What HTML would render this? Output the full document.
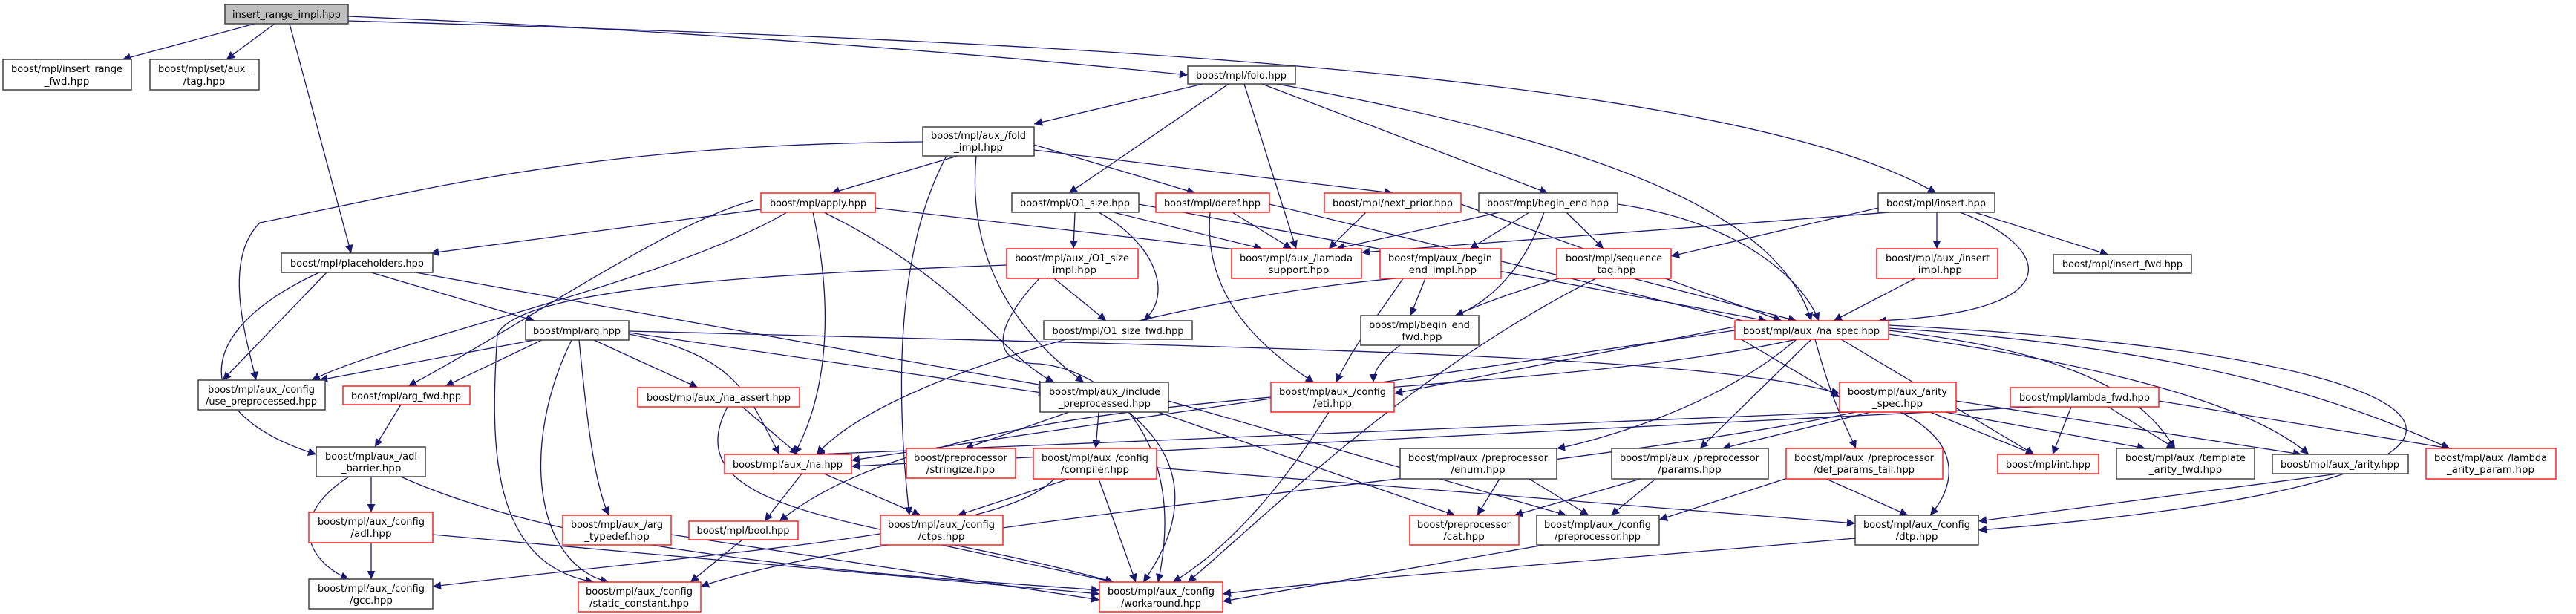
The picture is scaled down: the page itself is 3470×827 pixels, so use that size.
<!DOCTYPE html>
<html><head><meta charset="utf-8"><style>
html,body{margin:0;padding:0;background:#fff}
svg{display:block}
text{font-family:"DejaVu Sans","Liberation Sans",sans-serif;font-size:13.5px;fill:#000}
.e{fill:none;stroke:#191970;stroke-width:1.3}
.b{fill:#fff;stroke:#404040;stroke-width:1.5}
.r{fill:#fff;stroke:#ff2020;stroke-width:1.5}
</style></head><body>
<svg width="3470" height="827" viewBox="0 0 3470 827" xmlns="http://www.w3.org/2000/svg">
<defs><marker id="a" viewBox="0 0 10 10" refX="10" refY="5" markerWidth="13" markerHeight="11" markerUnits="userSpaceOnUse" orient="auto"><path d="M0,0 L10,5 L0,10 z" fill="#191970"/></marker></defs>
<g class="e" marker-end="url(#a)">
<path d="M343,32 L165,80"/><path d="M370,32 L305,80"/><path d="M390,32 L473,341"/>
<path d="M469,22 C900,40 1300,70 1600,101"/><path d="M469,28 C1200,50 2300,80 2608,260"/>
<path d="M1620,113 L1393,167"/><path d="M1655,113 L1440,260"/><path d="M1676,113 L1746,335"/><path d="M1700,113 L2085,260"/><path d="M1720,113 C2200,200 2400,300 2440,432"/>
<path d="M1290,210 L1120,260"/><path d="M1393,195 L1610,260"/><path d="M1393,202 L1876,260"/><path d="M1315,210 C1300,380 1400,470 1460,515"/><path d="M1243,191 C800,195 600,250 350,300 C300,350 330,450 345,512"/><path d="M1275,210 C1200,350 1210,560 1225,694"/>
<path d="M1025,282 L580,341"/><path d="M1179,280 L1700,340"/><path d="M1060,286 C900,380 520,460 420,512"/><path d="M1095,286 C1120,400 1120,520 1070,612"/><path d="M1110,286 C1300,380 1350,480 1420,515"/><path d="M1015,270 C900,300 700,440 550,520"/>
<path d="M440,367 L300,512"/><path d="M500,367 L720,432"/><path d="M430,367 C250,450 260,560 426,612"/><path d="M560,367 L1410,520"/>
<path d="M720,458 L430,512"/><path d="M730,458 L600,520"/><path d="M800,458 L940,522"/><path d="M847,450 C1000,480 1010,540 1050,612"/><path d="M847,448 L1410,530"/><path d="M780,458 C790,560 800,650 820,694"/><path d="M770,458 C700,600 720,760 820,784"/><path d="M847,446 C1800,470 2300,480 2478,530"/>
<path d="M1448,286 L1446,335"/><path d="M1480,286 C1560,330 1580,400 1540,432"/><path d="M1500,286 L1700,335"/><path d="M1534,275 L2380,432"/>
<path d="M1420,375 L1490,432"/><path d="M1400,375 C1330,450 1340,490 1400,490 C1500,500 1600,600 1560,784"/><path d="M1356,357 C1000,370 700,390 670,450 C660,600 660,760 800,784"/>
<path d="M1660,286 L1740,335"/><path d="M1630,286 C1620,400 1700,470 1770,515"/><path d="M1710,275 L2380,440"/>
<path d="M1840,286 L1790,335"/><path d="M1968,275 L2400,432"/>
<path d="M2020,286 L1800,335"/><path d="M2060,286 L1980,335"/><path d="M2110,286 L2160,335"/><path d="M2080,286 C2050,370 2000,410 1960,425"/><path d="M2179,275 C2350,300 2430,380 2450,432"/>
<path d="M1890,375 C1860,420 1820,470 1800,515"/><path d="M1920,375 L1900,425"/><path d="M1880,375 C1600,400 1200,500 1100,612"/><path d="M2100,375 C1950,420 1850,470 1850,515"/><path d="M2200,375 L2420,432"/><path d="M2150,375 C1900,500 1700,700 1600,784"/>
<path d="M2545,286 L1834,340"/><path d="M2530,280 L2251,345"/><path d="M2609,286 L2609,335"/><path d="M2640,286 C2760,330 2800,420 2530,432"/><path d="M2660,286 L2840,343"/>
<path d="M2580,375 L2470,432"/>
<path d="M2337,445 L1147,620"/><path d="M2337,440 L1878,530"/><path d="M2420,457 C2300,560 2120,600 2097,604"/><path d="M2440,457 L2290,604"/><path d="M2445,457 C2470,550 2490,580 2500,604"/><path d="M2480,457 L2740,612"/><path d="M2544,445 C2850,480 2900,560 2930,604"/><path d="M2544,450 C2900,500 3050,560 3110,612"/><path d="M2544,442 C3000,470 3200,560 3300,604"/><path d="M2544,438 C3400,480 3500,650 2665,714"/><path d="M2420,457 C2000,550 1300,500 1050,702"/><path d="M2337,452 L2478,535"/>
<path d="M1440,555 L1300,604"/><path d="M1480,555 L1476,604"/><path d="M1520,555 C1600,620 1600,700 1540,784"/><path d="M1574,540 L2110,694"/><path d="M1560,555 L1960,694"/>
<path d="M1440,645 L1290,694"/><path d="M1420,645 C1350,720 1000,740 583,790"/><path d="M1480,645 L1530,784"/><path d="M1558,630 L2499,705"/>
<path d="M1080,638 L1030,702"/><path d="M1110,638 L1240,694"/>
<path d="M1000,548 L1075,612"/><path d="M980,548 C900,700 1200,700 1500,784"/>
<path d="M1000,727 L930,784"/><path d="M1268,734 L1500,784"/><path d="M1790,555 C1700,700 1620,760 1580,784"/>
<path d="M500,642 L500,690"/><path d="M470,642 C380,700 420,760 470,780"/><path d="M540,642 C800,760 1300,780 1481,795"/>
<path d="M500,731 L500,780"/><path d="M583,720 L1481,800"/>
<path d="M540,545 L505,602"/><path d="M904,720 L1481,808"/>
<path d="M2490,555 L1100,612"/><path d="M2600,555 L2740,612"/><path d="M2560,555 C2650,600 2630,660 2600,694"/><path d="M2620,555 L2890,604"/><path d="M2635,540 L3100,612"/><path d="M2500,555 C2100,640 1200,700 944,790"/><path d="M2520,555 L2320,604"/>
<path d="M2790,548 L2765,612"/><path d="M2840,548 L2930,604"/><path d="M2908,540 L3300,604"/><path d="M2740,548 L1147,628"/>
<path d="M2020,645 L1990,694"/><path d="M2060,645 L2140,694"/><path d="M2230,645 L2170,694"/><path d="M2210,645 L2040,694"/>
<path d="M2460,645 L2570,694"/><path d="M2420,640 L2235,700"/>
<path d="M3150,638 L2665,702"/><path d="M2499,725 C2100,760 1800,780 1647,800"/><path d="M2080,734 L1647,810"/>
</g>
<g>
<rect x="303" y="6" width="166" height="26" fill="#bfbfbf" stroke="#404040" stroke-width="1.5"/><text x="386" y="24" text-anchor="middle" textLength="146" lengthAdjust="spacingAndGlyphs">insert_range_impl.hpp</text>
<rect class="b" x="4" y="80" width="173" height="41"/><text x="90" y="97" text-anchor="middle" textLength="150" lengthAdjust="spacingAndGlyphs">boost/mpl/insert_range</text><text x="90" y="114" text-anchor="middle">_fwd.hpp</text>
<rect class="b" x="202" y="80" width="147" height="41"/><text x="275" y="97" text-anchor="middle" textLength="124" lengthAdjust="spacingAndGlyphs">boost/mpl/set/aux_</text><text x="275" y="114" text-anchor="middle">/tag.hpp</text>
<rect class="b" x="379" y="341" width="204" height="26"/><text x="481" y="359" text-anchor="middle" textLength="180" lengthAdjust="spacingAndGlyphs">boost/mpl/placeholders.hpp</text>
<rect class="b" x="1600" y="89" width="145" height="24"/><text x="1672" y="106" text-anchor="middle" textLength="122" lengthAdjust="spacingAndGlyphs">boost/mpl/fold.hpp</text>
<rect class="b" x="1243" y="171" width="150" height="39"/><text x="1318" y="187" text-anchor="middle" textLength="128" lengthAdjust="spacingAndGlyphs">boost/mpl/aux_/fold</text><text x="1318" y="203" text-anchor="middle">_impl.hpp</text>
<rect class="r" x="1025" y="260" width="154" height="26"/><text x="1102" y="278" text-anchor="middle" textLength="130" lengthAdjust="spacingAndGlyphs">boost/mpl/apply.hpp</text>
<rect class="b" x="1363" y="260" width="171" height="26"/><text x="1448" y="278" text-anchor="middle" textLength="148" lengthAdjust="spacingAndGlyphs">boost/mpl/O1_size.hpp</text>
<rect class="r" x="1557" y="260" width="153" height="26"/><text x="1633" y="278" text-anchor="middle" textLength="130" lengthAdjust="spacingAndGlyphs">boost/mpl/deref.hpp</text>
<rect class="r" x="1784" y="260" width="184" height="26"/><text x="1876" y="278" text-anchor="middle" textLength="162" lengthAdjust="spacingAndGlyphs">boost/mpl/next_prior.hpp</text>
<rect class="b" x="1992" y="260" width="187" height="26"/><text x="2085" y="278" text-anchor="middle" textLength="164" lengthAdjust="spacingAndGlyphs">boost/mpl/begin_end.hpp</text>
<rect class="b" x="2530" y="260" width="157" height="26"/><text x="2608" y="278" text-anchor="middle" textLength="134" lengthAdjust="spacingAndGlyphs">boost/mpl/insert.hpp</text>
<rect class="r" x="1356" y="335" width="177" height="40"/><text x="1444" y="352" text-anchor="middle" textLength="154" lengthAdjust="spacingAndGlyphs">boost/mpl/aux_/O1_size</text><text x="1444" y="368" text-anchor="middle">_impl.hpp</text>
<rect class="r" x="1659" y="335" width="175" height="40"/><text x="1746" y="352" text-anchor="middle" textLength="152" lengthAdjust="spacingAndGlyphs">boost/mpl/aux_/lambda</text><text x="1746" y="368" text-anchor="middle">_support.hpp</text>
<rect class="r" x="1859" y="335" width="163" height="40"/><text x="1940" y="352" text-anchor="middle" textLength="140" lengthAdjust="spacingAndGlyphs">boost/mpl/aux_/begin</text><text x="1940" y="368" text-anchor="middle">_end_impl.hpp</text>
<rect class="r" x="2097" y="335" width="154" height="40"/><text x="2174" y="352" text-anchor="middle" textLength="130" lengthAdjust="spacingAndGlyphs">boost/mpl/sequence</text><text x="2174" y="368" text-anchor="middle">_tag.hpp</text>
<rect class="r" x="2528" y="335" width="163" height="40"/><text x="2610" y="352" text-anchor="middle" textLength="140" lengthAdjust="spacingAndGlyphs">boost/mpl/aux_/insert</text><text x="2610" y="368" text-anchor="middle">_impl.hpp</text>
<rect class="b" x="2766" y="343" width="186" height="25"/><text x="2859" y="360" text-anchor="middle" textLength="162" lengthAdjust="spacingAndGlyphs">boost/mpl/insert_fwd.hpp</text>
<rect class="b" x="708" y="432" width="139" height="26"/><text x="777" y="450" text-anchor="middle" textLength="118" lengthAdjust="spacingAndGlyphs">boost/mpl/arg.hpp</text>
<rect class="b" x="1406" y="432" width="200" height="25"/><text x="1506" y="450" text-anchor="middle" textLength="177" lengthAdjust="spacingAndGlyphs">boost/mpl/O1_size_fwd.hpp</text>
<rect class="b" x="1833" y="425" width="159" height="40"/><text x="1912" y="442" text-anchor="middle" textLength="136" lengthAdjust="spacingAndGlyphs">boost/mpl/begin_end</text><text x="1912" y="458" text-anchor="middle">_fwd.hpp</text>
<rect class="r" x="2337" y="432" width="207" height="25"/><text x="2440" y="450" text-anchor="middle" textLength="184" lengthAdjust="spacingAndGlyphs">boost/mpl/aux_/na_spec.hpp</text>
<rect class="b" x="267" y="512" width="171" height="40"/><text x="352" y="529" text-anchor="middle" textLength="144" lengthAdjust="spacingAndGlyphs">boost/mpl/aux_/config</text><text x="352" y="545" text-anchor="middle" textLength="150" lengthAdjust="spacingAndGlyphs">/use_preprocessed.hpp</text>
<rect class="r" x="462" y="520" width="171" height="25"/><text x="547" y="538" text-anchor="middle" textLength="148" lengthAdjust="spacingAndGlyphs">boost/mpl/arg_fwd.hpp</text>
<rect class="r" x="859" y="522" width="218" height="26"/><text x="968" y="540" text-anchor="middle" textLength="194" lengthAdjust="spacingAndGlyphs">boost/mpl/aux_/na_assert.hpp</text>
<rect class="b" x="1401" y="515" width="173" height="40"/><text x="1488" y="532" text-anchor="middle" textLength="150" lengthAdjust="spacingAndGlyphs">boost/mpl/aux_/include</text><text x="1488" y="548" text-anchor="middle" textLength="124" lengthAdjust="spacingAndGlyphs">_preprocessed.hpp</text>
<rect class="r" x="1712" y="515" width="166" height="40"/><text x="1795" y="532" text-anchor="middle" textLength="144" lengthAdjust="spacingAndGlyphs">boost/mpl/aux_/config</text><text x="1795" y="548" text-anchor="middle">/eti.hpp</text>
<rect class="r" x="2478" y="515" width="157" height="40"/><text x="2556" y="532" text-anchor="middle" textLength="134" lengthAdjust="spacingAndGlyphs">boost/mpl/aux_/arity</text><text x="2556" y="548" text-anchor="middle">_spec.hpp</text>
<rect class="r" x="2708" y="522" width="200" height="26"/><text x="2808" y="540" text-anchor="middle" textLength="176" lengthAdjust="spacingAndGlyphs">boost/mpl/lambda_fwd.hpp</text>
<rect class="b" x="426" y="602" width="147" height="40"/><text x="500" y="619" text-anchor="middle" textLength="124" lengthAdjust="spacingAndGlyphs">boost/mpl/aux_/adl</text><text x="500" y="635" text-anchor="middle">_barrier.hpp</text>
<rect class="r" x="976" y="612" width="171" height="26"/><text x="1061" y="630" text-anchor="middle" textLength="148" lengthAdjust="spacingAndGlyphs">boost/mpl/aux_/na.hpp</text>
<rect class="r" x="1221" y="604" width="147" height="40"/><text x="1294" y="621" text-anchor="middle" textLength="126" lengthAdjust="spacingAndGlyphs">boost/preprocessor</text><text x="1294" y="637" text-anchor="middle">/stringize.hpp</text>
<rect class="r" x="1392" y="604" width="166" height="41"/><text x="1475" y="621" text-anchor="middle" textLength="144" lengthAdjust="spacingAndGlyphs">boost/mpl/aux_/config</text><text x="1475" y="637" text-anchor="middle">/compiler.hpp</text>
<rect class="b" x="1886" y="604" width="211" height="41"/><text x="1991" y="621" text-anchor="middle" textLength="188" lengthAdjust="spacingAndGlyphs">boost/mpl/aux_/preprocessor</text><text x="1991" y="637" text-anchor="middle">/enum.hpp</text>
<rect class="b" x="2171" y="604" width="211" height="41"/><text x="2276" y="621" text-anchor="middle" textLength="188" lengthAdjust="spacingAndGlyphs">boost/mpl/aux_/preprocessor</text><text x="2276" y="637" text-anchor="middle">/params.hpp</text>
<rect class="r" x="2406" y="604" width="211" height="41"/><text x="2511" y="621" text-anchor="middle" textLength="188" lengthAdjust="spacingAndGlyphs">boost/mpl/aux_/preprocessor</text><text x="2511" y="637" text-anchor="middle" textLength="136" lengthAdjust="spacingAndGlyphs">/def_params_tail.hpp</text>
<rect class="r" x="2691" y="612" width="136" height="26"/><text x="2759" y="630" text-anchor="middle" textLength="114" lengthAdjust="spacingAndGlyphs">boost/mpl/int.hpp</text>
<rect class="b" x="2851" y="604" width="186" height="41"/><text x="2944" y="621" text-anchor="middle" textLength="162" lengthAdjust="spacingAndGlyphs">boost/mpl/aux_/template</text><text x="2944" y="637" text-anchor="middle">_arity_fwd.hpp</text>
<rect class="b" x="3061" y="612" width="183" height="26"/><text x="3152" y="630" text-anchor="middle" textLength="160" lengthAdjust="spacingAndGlyphs">boost/mpl/aux_/arity.hpp</text>
<rect class="r" x="3268" y="604" width="175" height="41"/><text x="3355" y="621" text-anchor="middle" textLength="152" lengthAdjust="spacingAndGlyphs">boost/mpl/aux_/lambda</text><text x="3355" y="637" text-anchor="middle">_arity_param.hpp</text>
<rect class="r" x="416" y="690" width="167" height="41"/><text x="500" y="707" text-anchor="middle" textLength="144" lengthAdjust="spacingAndGlyphs">boost/mpl/aux_/config</text><text x="500" y="723" text-anchor="middle">/adl.hpp</text>
<rect class="r" x="758" y="694" width="146" height="40"/><text x="831" y="711" text-anchor="middle" textLength="124" lengthAdjust="spacingAndGlyphs">boost/mpl/aux_/arg</text><text x="831" y="727" text-anchor="middle">_typedef.hpp</text>
<rect class="r" x="928" y="702" width="147" height="25"/><text x="1001" y="719" text-anchor="middle" textLength="125" lengthAdjust="spacingAndGlyphs">boost/mpl/bool.hpp</text>
<rect class="r" x="1186" y="694" width="165" height="40"/><text x="1268" y="711" text-anchor="middle" textLength="144" lengthAdjust="spacingAndGlyphs">boost/mpl/aux_/config</text><text x="1268" y="727" text-anchor="middle">/ctps.hpp</text>
<rect class="r" x="1899" y="694" width="147" height="40"/><text x="1972" y="711" text-anchor="middle" textLength="126" lengthAdjust="spacingAndGlyphs">boost/preprocessor</text><text x="1972" y="727" text-anchor="middle">/cat.hpp</text>
<rect class="b" x="2070" y="694" width="165" height="40"/><text x="2152" y="711" text-anchor="middle" textLength="144" lengthAdjust="spacingAndGlyphs">boost/mpl/aux_/config</text><text x="2152" y="727" text-anchor="middle" textLength="116" lengthAdjust="spacingAndGlyphs">/preprocessor.hpp</text>
<rect class="b" x="2499" y="694" width="166" height="40"/><text x="2582" y="711" text-anchor="middle" textLength="144" lengthAdjust="spacingAndGlyphs">boost/mpl/aux_/config</text><text x="2582" y="727" text-anchor="middle">/dtp.hpp</text>
<rect class="b" x="416" y="780" width="167" height="40"/><text x="500" y="797" text-anchor="middle" textLength="144" lengthAdjust="spacingAndGlyphs">boost/mpl/aux_/config</text><text x="500" y="813" text-anchor="middle">/gcc.hpp</text>
<rect class="r" x="779" y="784" width="165" height="40"/><text x="861" y="801" text-anchor="middle" textLength="144" lengthAdjust="spacingAndGlyphs">boost/mpl/aux_/config</text><text x="861" y="817" text-anchor="middle" textLength="134" lengthAdjust="spacingAndGlyphs">/static_constant.hpp</text>
<rect class="r" x="1481" y="784" width="166" height="40"/><text x="1564" y="801" text-anchor="middle" textLength="144" lengthAdjust="spacingAndGlyphs">boost/mpl/aux_/config</text><text x="1564" y="817" text-anchor="middle" textLength="108" lengthAdjust="spacingAndGlyphs">/workaround.hpp</text>
</g>
</svg>
</body></html>
